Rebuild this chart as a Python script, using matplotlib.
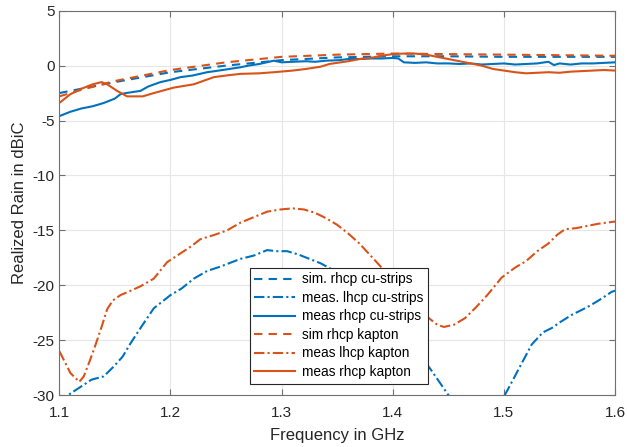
import matplotlib.pyplot as plt
import numpy as np

plt.rcParams['font.family'] = ['Liberation Sans', 'DejaVu Sans']
plt.rcParams['axes.unicode_minus'] = False

blue = '#0072BD'
orange = '#D95319'

# sim rhcp cu-strips
f_sim_cu = [1.10, 1.15, 1.20, 1.25, 1.30, 1.35, 1.40, 1.45, 1.50, 1.55, 1.60]
g_sim_cu = [-2.5, -1.5, -0.6, 0.0, 0.5, 0.75, 0.85, 0.85, 0.8, 0.8, 0.8]

# sim rhcp kapton
f_sim_kap = [1.10, 1.12, 1.15, 1.20, 1.25, 1.30, 1.35, 1.40, 1.45, 1.50, 1.55, 1.60]
g_sim_kap = [-2.8, -2.2, -1.4, -0.4, 0.3, 0.8, 1.0, 1.1, 1.05, 1.0, 0.95, 0.9]

# meas lhcp cu-strips
f_lhcp_cu = [1.10, 1.108, 1.12, 1.129, 1.14, 1.149, 1.157, 1.164, 1.175, 1.185, 1.20,
             1.21, 1.221, 1.233, 1.245, 1.263, 1.275, 1.287, 1.295, 1.305, 1.315,
             1.325, 1.335, 1.346, 1.36, 1.375, 1.39, 1.405, 1.42, 1.435, 1.45, 1.46,
             1.48, 1.495, 1.503, 1.515, 1.525, 1.535, 1.543, 1.55, 1.561, 1.575,
             1.585, 1.597, 1.60]
g_lhcp_cu = [-30.8, -30.0, -29.2, -28.6, -28.3, -27.4, -26.5, -25.3, -23.6, -22.1, -20.9,
             -20.3, -19.4, -18.7, -18.3, -17.6, -17.3, -16.8, -16.9, -16.9, -17.2,
             -17.6, -18.0, -18.6, -19.5, -21.0, -22.5, -24.0, -25.7, -27.8, -30.0, -31.2,
             -32.0, -31.0, -29.6, -27.3, -25.4, -24.3, -23.9, -23.4, -22.7, -22.0,
             -21.4, -20.6, -20.5]

# meas rhcp cu-strips
f_rhcp_cu = [1.10, 1.11, 1.12, 1.13, 1.14, 1.15, 1.155, 1.16, 1.173, 1.18, 1.191, 1.20,
             1.209, 1.22, 1.233, 1.24, 1.25, 1.263, 1.27, 1.28, 1.293, 1.30, 1.31, 1.322,
             1.33, 1.34, 1.352, 1.36, 1.37, 1.38, 1.39, 1.40, 1.405, 1.41, 1.42, 1.43,
             1.44, 1.45, 1.46, 1.47, 1.48, 1.49, 1.50, 1.51, 1.52, 1.53, 1.54, 1.545,
             1.55, 1.56, 1.57, 1.58, 1.59, 1.60]
g_rhcp_cu = [-4.6, -4.2, -3.9, -3.7, -3.4, -3.0, -2.6, -2.5, -2.3, -1.9, -1.5, -1.3,
             -1.05, -0.9, -0.6, -0.5, -0.35, -0.15, 0.0, 0.15, 0.45, 0.3, 0.35, 0.4,
             0.35, 0.45, 0.5, 0.6, 0.6, 0.65, 0.65, 0.7, 0.65, 0.3, 0.25, 0.3,
             0.2, 0.2, 0.15, 0.2, 0.1, 0.15, 0.2, 0.1, 0.15, 0.2, 0.35, 0.05,
             0.2, 0.1, 0.2, 0.2, 0.25, 0.3]

# meas lhcp kapton
f_lhcp_kap = [1.10, 1.105, 1.11, 1.118, 1.122, 1.127, 1.132, 1.138, 1.143, 1.148, 1.155,
              1.162, 1.173, 1.185, 1.197, 1.209, 1.218, 1.227, 1.24, 1.251, 1.263, 1.275,
              1.287, 1.299, 1.31, 1.32, 1.33, 1.34, 1.35, 1.36, 1.37, 1.38, 1.39,
              1.40, 1.41, 1.42, 1.43, 1.44, 1.446, 1.455, 1.465, 1.475, 1.485, 1.498,
              1.51, 1.52, 1.53, 1.54, 1.548, 1.555, 1.565, 1.575, 1.585, 1.60]
g_lhcp_kap = [-26.0, -27.0, -28.0, -28.8, -28.3, -27.0, -25.6, -23.8, -22.2, -21.4, -20.9,
              -20.6, -20.1, -19.4, -17.9, -17.1, -16.5, -15.8, -15.4, -15.0, -14.3, -13.8,
              -13.3, -13.1, -13.0, -13.1, -13.4, -13.9, -14.5, -15.3, -16.2, -17.3, -18.4,
              -19.6, -20.7, -21.8, -22.8, -23.6, -23.8, -23.6, -23.0, -22.0, -20.9, -19.3,
              -18.4, -17.8, -16.9, -16.2, -15.4, -14.9, -14.8, -14.6, -14.4, -14.2]

# meas rhcp kapton
f_rhcp_kap = [1.10, 1.11, 1.12, 1.13, 1.138, 1.143, 1.152, 1.161, 1.17, 1.175, 1.185,
              1.203, 1.221, 1.239, 1.25, 1.263, 1.28, 1.293, 1.31, 1.322, 1.335, 1.343,
              1.36, 1.37, 1.38, 1.39, 1.40, 1.41, 1.42, 1.43, 1.44, 1.45, 1.46, 1.47,
              1.48, 1.49, 1.50, 1.51, 1.52, 1.53, 1.54, 1.55, 1.56, 1.57, 1.58, 1.59, 1.60]
g_rhcp_kap = [-3.4, -2.6, -2.1, -1.7, -1.5, -1.7, -2.3, -2.8, -2.8, -2.8, -2.5,
              -2.0, -1.7, -1.05, -0.9, -0.75, -0.7, -0.6, -0.45, -0.3, -0.1, 0.15,
              0.4, 0.6, 0.7, 0.9, 1.05, 1.1, 1.1, 1.0, 0.8, 0.6, 0.4, 0.2,
              0.0, -0.3, -0.45, -0.6, -0.7, -0.65, -0.6, -0.65, -0.55, -0.5, -0.45, -0.4, -0.45]

fig, ax = plt.subplots(figsize=(6.27, 4.47), dpi=100)
fig.subplots_adjust(left=0.0946, right=0.981, top=0.976, bottom=0.1163)

lw = 1.5
dash = (0, (4, 3))
dashdot = (0, (5, 1.5, 1, 1.5))
ax.plot(f_sim_cu, g_sim_cu, color=blue, lw=lw, ls=dash, label='sim. rhcp cu-strips')
ax.plot(f_lhcp_cu, g_lhcp_cu, color=blue, lw=lw, ls=dashdot, label='meas. lhcp cu-strips')
ax.plot(f_rhcp_cu, g_rhcp_cu, color=blue, lw=lw, ls='-', label='meas rhcp cu-strips')
ax.plot(f_sim_kap, g_sim_kap, color=orange, lw=lw, ls=dash, label='sim rhcp kapton')
ax.plot(f_lhcp_kap, g_lhcp_kap, color=orange, lw=lw, ls=dashdot, label='meas lhcp kapton')
ax.plot(f_rhcp_kap, g_rhcp_kap, color=orange, lw=lw, ls='-', label='meas rhcp kapton')

ax.set_xlim(1.1, 1.6)
ax.set_ylim(-30, 5)
ax.set_xticks(np.arange(1.1, 1.61, 0.1))
ax.set_xticklabels(['1.1', '1.2', '1.3', '1.4', '1.5', '1.6'])
ax.set_yticks(np.arange(-30, 6, 5))
ax.grid(True, color='#e6e6e6', lw=0.8)
ax.set_axisbelow(True)
ax.tick_params(direction='in', labelsize=11, labelcolor='#262626', color='#707070',
               length=4, top=True, right=True)
ax.tick_params(axis='x', pad=8)
for s in ax.spines.values():
    s.set_color('#707070')
    s.set_linewidth(0.8)
ax.set_xlabel('Frequency in GHz', fontsize=12, color='#262626', labelpad=6)
ax.set_ylabel('Realized Rain in dBiC', fontsize=12, color='#262626')

leg = ax.legend(loc='lower left', bbox_to_anchor=(0.33, 0.012), fontsize=9.8,
                frameon=True, fancybox=False, edgecolor='#262626', framealpha=1,
                handlelength=3.0, borderpad=0.35, labelspacing=0.33, handletextpad=0.5)
leg.get_frame().set_linewidth(0.8)

plt.savefig('out.png', dpi=100)
